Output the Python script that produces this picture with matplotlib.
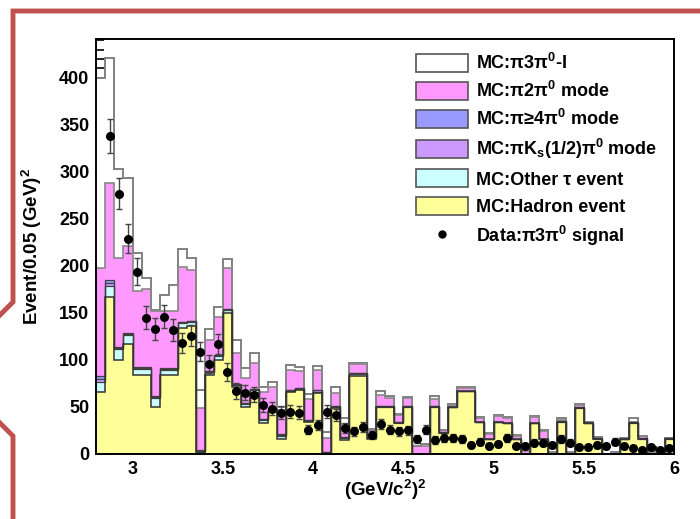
import matplotlib
matplotlib.use('Agg')
import matplotlib.pyplot as plt
import numpy as np
from matplotlib.lines import Line2D
from matplotlib.patches import Patch
from matplotlib.ticker import MultipleLocator, FormatStrFormatter

plt.rcParams['font.family'] = ['Liberation Sans', 'DejaVu Sans']
plt.rcParams['font.weight'] = 'bold'
plt.rcParams['mathtext.fontset'] = 'custom'
plt.rcParams['mathtext.rm'] = 'Liberation Sans:bold'
plt.rcParams['mathtext.bf'] = 'Liberation Sans:bold'
plt.rcParams['mathtext.it'] = 'Liberation Sans:bold'
plt.rcParams['mathtext.default'] = 'rm'

# binning: 0.05 (GeV/c^2)^2 bins starting at 2.8
bin_lo = 2.8
bin_w = 0.05

# MC components (events per bin), stacked bottom -> top
hadron = [66, 167, 100, 117, 84, 84, 50, 84, 84, 134,
          136, 0, 84, 100, 150, 71, 50, 65, 33, 45,
          16, 66, 68, 34, 65, 0, 49, 15, 83, 83,
          16, 50, 50, 33, 50, 0, 0, 50, 22, 50,
          67, 67, 34, 16, 34, 33, 16, 0, 33, 16,
          0, 34, 0, 49, 33, 16, 0, 0, 16, 33,
          16, 0, 0, 16]
other_tau = [11, 12, 12, 10, 6, 6, 10, 5, 5, 5,
             4, 2, 3, 4, 3, 2, 3, 3, 3, 2,
             3, 1, 1, 1, 1, 1, 1, 2, 2, 2,
             1, 0, 0, 0, 0, 0, 0, 0, 0, 0,
             0, 0, 0, 0, 0, 0, 0, 0, 0, 0,
             0, 0, 0, 0, 0, 0, 0, 0, 0, 0,
             0, 0, 0, 0]
pi_ks = [3, 3, 1, 1, 1, 1, 1, 1, 1, 1,
         1, 1, 1, 1, 1, 1, 1, 1, 1, 1,
         1, 1, 1, 1, 2, 1, 1, 1, 1, 1,
         1, 1, 1, 1, 1, 0, 0, 1, 1, 0,
         0, 0, 0, 0, 0, 0, 0, 0, 0, 0,
         0, 1, 0, 1, 0, 1, 0, 0, 0, 1,
         1, 0, 0, 1]
pi_4pi0 = [3, 3, 1, 1, 1, 1, 1, 1, 1, 0,
           0, 1, 0, 0, 0, 0, 0, 0, 0, 0,
           1, 0, 0, 0, 0, 0, 0, 0, 0, 0,
           0, 0, 0, 0, 0, 0, 0, 0, 0, 0,
           0, 0, 0, 0, 0, 0, 0, 0, 0, 0,
           0, 0, 0, 0, 0, 0, 0, 0, 0, 0,
           0, 0, 0, 0]
pi_2pi0 = [115, 103, 94, 92, 81, 83, 90, 61, 61, 59,
           55, 45, 33, 41, 44, 33, 27, 28, 29, 23,
           26, 21, 18, 22, 21, 15, 14, 14, 10, 10,
           7, 12, 9, 7, 9, 8, 9, 7, 2, 2,
           3, 3, 4, 5, 6, 5, 3, 3, 6, 8,
           1, 1, 1, 2, 0, 0, 0, 1, 0, 0,
           2, 1, 1, 0]
pi_3pi0_I = [202, 133, 95, 73, 41, 12, 1, 17, 28, 19,
             12, 19, 12, 10, 9, 14, 10, 10, 5, 6,
             3, 6, 5, 6, 5, 6, 6, 6, 1, 1,
             2, 4, 2, 2, 1, 1, 2, 4, 1, 1,
             1, 1, 1, 1, 1, 1, 1, 1, 1, 1,
             1, 2, 1, 1, 1, 1, 0, 1, 1, 4,
             0, 1, 1, 0]

# data: pi 3pi0 signal
data = [np.nan, 338, 277, 229, 194, 145, 133, 146, 132, 118,
        126, 109, 96, 117, 87, 67, 65, 63, 52, 48,
        44, 45, 44, 26, 31, 45, 41, 28, 24, 29,
        20, 32, 26, 24, 25, 16, 26, 15, 17, 17,
        16, 10, 13, 9, 11, 17, 9, 9, 12, 12,
        10, 16, 12, 7, 7, 10, 8, 13, 8, 6,
        4, 7, 4, 6]

labels = ['MC:\u03c03\u03c0$^0$-I',
          'MC:\u03c02\u03c0$^0$ mode',
          'MC:\u03c0\u22654\u03c0$^0$ mode',
          'MC:\u03c0K$_s$(1/2)\u03c0$^0$ mode',
          'MC:Other \u03c4 event',
          'MC:Hadron event']
data_label = 'Data:\u03c03\u03c0$^0$ signal'

# bottom -> top
layers = [hadron, other_tau, pi_ks, pi_4pi0, pi_2pi0, pi_3pi0_I]
fills = ['#ffff99', '#ccffff', '#cc99ff', '#9999ff', '#ff99ff', '#ffffff']
edges_c = ['#333333', '#404040', '#404040', '#404040', '#888888', '#808080']
edges_w = [1.1, 0.9, 0.9, 0.9, 1.2, 1.4]

nb = len(data)
edges = bin_lo + bin_w * np.arange(nb + 1)
centers = 0.5 * (edges[:-1] + edges[1:])
cum = np.cumsum(np.array(layers, dtype=float), axis=0)

fig = plt.figure(figsize=(7, 5.19), dpi=100)
ax = fig.add_axes([96.4 / 700, 65 / 519, 577.6 / 700, 414.7 / 519])

# draw from top of stack down so each layer sits over the one above
for k in range(len(layers) - 1, -1, -1):
    ax.stairs(cum[k], edges, fill=True, facecolor=fills[k], edgecolor='none', zorder=2)
    ax.stairs(cum[k], edges, baseline=None, color=edges_c[k], lw=edges_w[k], zorder=2.5)

d = np.array(data, dtype=float)
err = np.sqrt(d)
ax.errorbar(centers, d, yerr=err, fmt='none', ecolor='#444444', elinewidth=1,
            capsize=2.2, capthick=1, zorder=4)
ax.hlines(d, centers - 0.02, centers + 0.02, color='#444444', lw=1, zorder=4)
ax.plot(centers, d, 'o', color='black', ms=5.5, zorder=5)

ax.set_xlim(bin_lo, edges[-1])
ax.set_ylim(0, 441)
ax.xaxis.set_major_locator(MultipleLocator(0.5))
ax.xaxis.set_minor_locator(MultipleLocator(0.1))
ax.xaxis.set_major_formatter(FormatStrFormatter('%g'))
ax.yaxis.set_major_locator(MultipleLocator(50))
ax.yaxis.set_minor_locator(MultipleLocator(10))
ax.tick_params(which='both', direction='in', top=False, right=False, labelsize=13, width=1.2)
ax.tick_params(which='major', length=12, pad=5)
ax.tick_params(which='minor', length=6)
for s in ax.spines.values():
    s.set_linewidth(1.4)
    s.set_zorder(6)

ax.set_xlabel('(GeV/c$^2$)$^2$', fontsize=13.5, fontweight='bold', labelpad=0)
ax.set_ylabel('Event/0.05 (GeV)$^2$', fontsize=13.5, fontweight='bold')
ax.yaxis.set_label_coords(-0.09, 0.5)

handles = [Patch(facecolor=f, edgecolor='#555555', lw=1.2) for f in fills[::-1]]
handles.append(Line2D([], [], marker='o', ls='none', color='black', ms=5))
ax.legend(handles, labels + [data_label], loc='upper left', bbox_to_anchor=(0.554, 0.968),
          frameon=False, fontsize=13, handlelength=2.85, handleheight=1.15,
          labelspacing=0.45, handletextpad=0.45, borderpad=0, borderaxespad=0)

# slide frame decoration in red
red = '#c0504d'
def fl(xs, ys):
    fig.add_artist(Line2D([x / 700 for x in xs], [1 - y / 519 for y in ys],
                          transform=fig.transFigure, color=red, lw=3.5,
                          solid_joinstyle='miter'))
fl([0, 13, 13, 700], [315, 302, 11, 11])
fl([0, 13, 13], [423, 436, 519])

fig.savefig('out.png', dpi=100)
